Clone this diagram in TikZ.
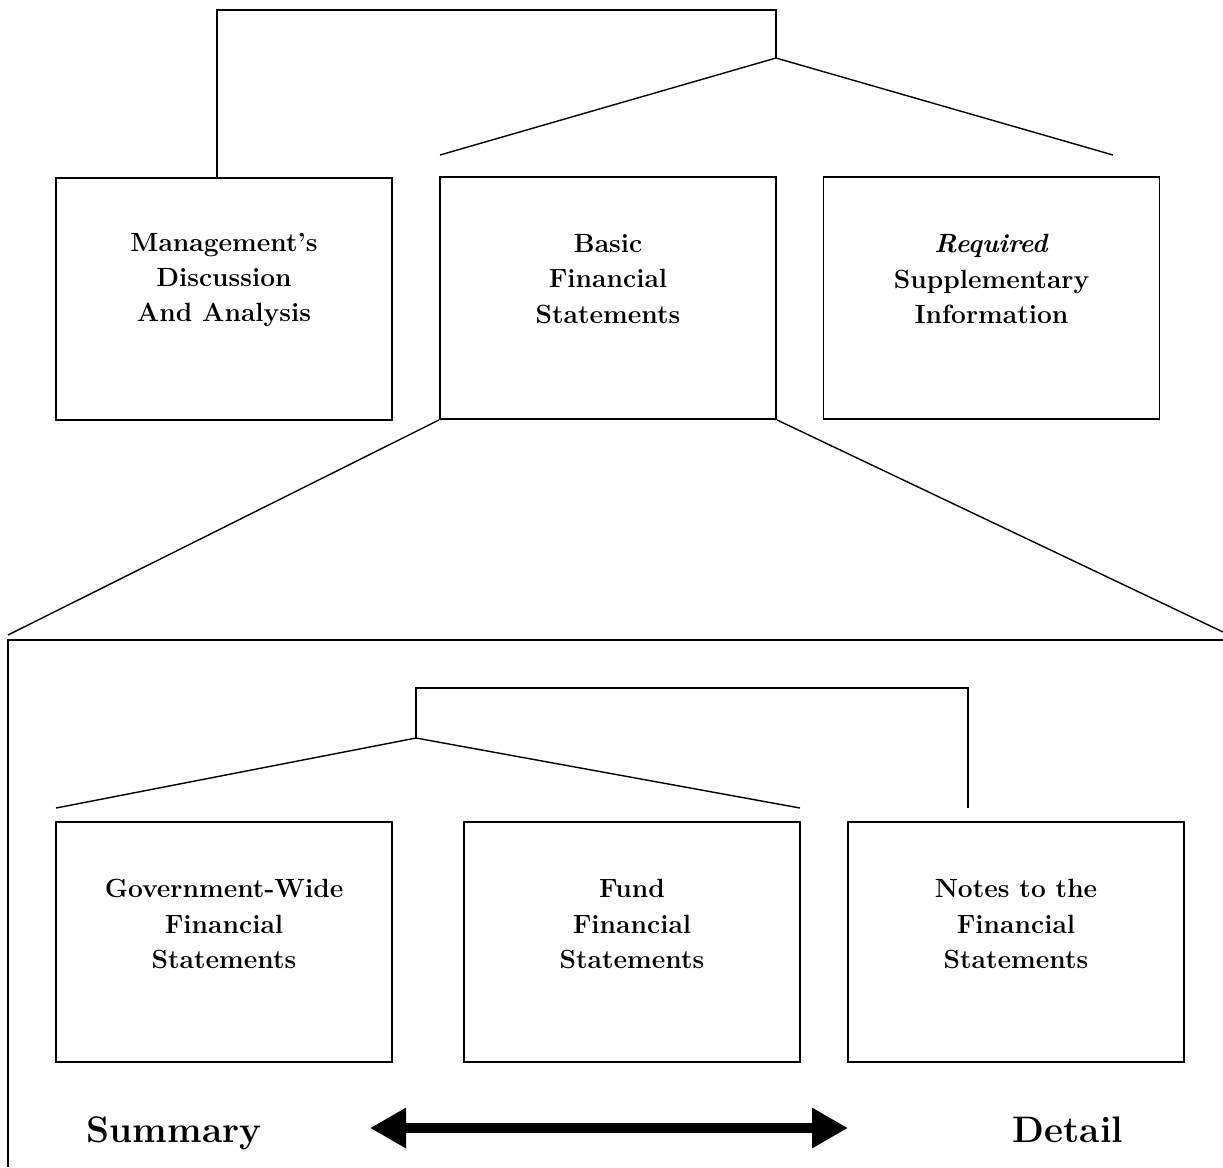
\documentclass[tikz,border=0pt]{standalone}
\usepackage{amsmath}
\usepackage{tikz}
\usetikzlibrary{arrows, arrows.meta, positioning}
\tikzset{>=stealth}
\tikzset{
  statebox/.style={draw, line width=1pt, minimum width=6.72cm, minimum height=4.84cm},
  boxtext/.style={align=center, font=\fontsize{15}{20}\selectfont\bfseries},
  endtext/.style={anchor=base, font=\fontsize{21}{26}\selectfont\bfseries}
}

\begin{document}
\begin{tikzpicture}[>=stealth, line width=0.8pt]
		\useasboundingbox (0,0) rectangle (24.46,-23.34);
		% top row
		\node[statebox] (MD) at (4.48,-5.98) {};
		\node[statebox] (BF) at (12.16,-5.96) {};
		\node[statebox] (RS) at (19.83,-5.96) {};
		\node[boxtext] (MDt) at ([yshift=0.38cm]MD.center) {Management's\\Discussion\\And Analysis};
		\node[boxtext] (BFt) at ([yshift=0.38cm]BF.center) {Basic\\Financial\\Statements};
		\node[boxtext] (RSt) at ([yshift=0.38cm]RS.center) {\textit{Required}\\Supplementary\\Information};
		\coordinate (T1) at (15.52,-1.16);
		\coordinate (T2) at (8.8,-3.1);  \coordinate (T3) at (22.26,-3.1);
		\draw ([xshift=-0.14cm]MD.north) |- (15.52,-0.2) -- (T1);
		\draw (T2) -- (T1) -- (T3);
		% expansion of the basic statements
		\coordinate (E1) at (0.16,-12.7);  \coordinate (E2) at (24.46,-12.64);
		\draw (BF.south west) -- (E1); \draw (BF.south east) -- (E2);
		\coordinate (F1) at (0.16,-12.8);  \coordinate (F2) at (24.46,-12.8);
		\draw[line width=1.1pt] (0.16,-23.34) -- (F1) -- (F2);
		% bottom row
		\node[statebox, minimum height=4.8cm] (GW) at (4.48,-18.84) {};
		\node[statebox, minimum height=4.8cm] (FF) at (12.64,-18.84) {};
		\node[statebox, minimum height=4.8cm] (NF) at (20.32,-18.84) {};
		\node[boxtext] (GWt) at ([yshift=0.36cm]GW.center) {Government-Wide\\Financial\\Statements};
		\node[boxtext] (FFt) at ([yshift=0.36cm]FF.center) {Fund\\Financial\\Statements};
		\node[boxtext] (NFt) at ([yshift=0.36cm]NF.center) {Notes to the\\Financial\\Statements};
		\coordinate (N1) at (19.36,-16.16);
		\coordinate (B1) at (8.32,-14.76);
		\coordinate (B2) at (1.12,-16.16);  \coordinate (B3) at (16,-16.16);
		\draw (N1) |- (8.32,-13.76) -- (B1);
		\draw (B2) -- (B1) -- (B3);
		% summary to detail
		\node[endtext] (SU) at (3.48,-22.84) {Summary};
		\node[endtext] (DE) at (21.36,-22.84) {Detail};
		\coordinate (A1) at (7.4,-22.56);  \coordinate (A2) at (16.96,-22.56);
		\draw [{Triangle[length=0.72cm, width=0.76cm]}-{Triangle[length=0.72cm, width=0.76cm]}, line width=0.2cm] (A1)--(A2);
		\end{tikzpicture}
\end{document}
